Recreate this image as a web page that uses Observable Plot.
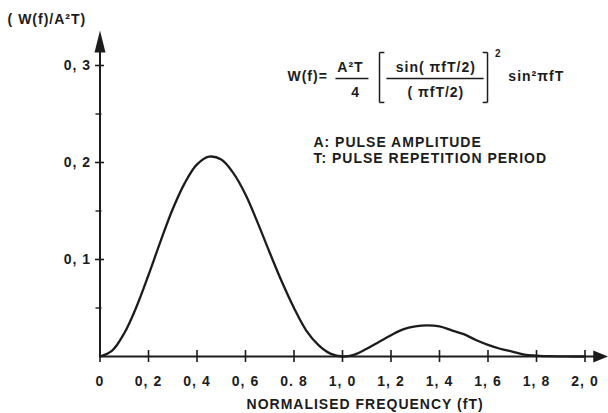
<!DOCTYPE html>
<html>
<head>
<meta charset="utf-8">
<script src="https://cdn.jsdelivr.net/npm/d3@7"></script>
<script src="https://cdn.jsdelivr.net/npm/@observablehq/plot@0.6"></script>
<style>
  html, body { margin: 0; padding: 0; background: #fff; }
</style>
</head>
<body>
<div id="chart"></div>
<script>
// ---- data ----
const freq = [0, 0.05, 0.1, 0.15, 0.2, 0.25, 0.3, 0.35, 0.4, 0.45, 0.5, 0.55, 0.6, 0.65, 0.7, 0.75, 0.8, 0.85, 0.9, 0.95,
              1.0, 1.05, 1.1, 1.15, 1.2, 1.25, 1.3, 1.35, 1.4, 1.45, 1.5, 1.55, 1.6, 1.65, 1.7, 1.75, 1.8, 1.85, 1.9, 1.95, 2.0];
const power = [0, 0.006, 0.024, 0.051, 0.084, 0.119, 0.152, 0.179, 0.198, 0.206, 0.203, 0.189, 0.167, 0.138, 0.107, 0.077, 0.050, 0.027, 0.012, 0.003,
               0, 0.002, 0.008, 0.015, 0.022, 0.028, 0.031, 0.032, 0.031, 0.027, 0.023, 0.017, 0.012, 0.008, 0.005, 0.002, 0.001, 0.0003, 0.0001, 0, 0];
const xTicks = [0, 0.2, 0.4, 0.6, 0.8, 1.0, 1.2, 1.4, 1.6, 1.8, 2.0];
const xTickLabels = ["0", "0, 2", "0, 4", "0, 6", "0. 8", "1, 0", "1, 2", "1, 4", "1, 6", "1, 8", "2, 0"];
const yTicks = [0.1, 0.2, 0.3];
const yTickLabels = ["0, 1", "0, 2", "0, 3"];
const yMinorTicks = [0.05, 0.15, 0.25];
const yTitle = "( W(f)/A²T)";
const xTitle = "NORMALISED FREQUENCY (fT)";
const formulaLHS = "W(f)=";
const formulaCoef = "A²T";
const formulaCoefDen = "4";
const formulaNum = "sin( πfT/2)";
const formulaDen = "( πfT/2)";
const formulaPow = "2";
const formulaTail = "sin²πfT";
const notes = ["A: PULSE AMPLITUDE", "T: PULSE REPETITION PERIOD"];

const data = freq.map((f, i) => ({f, w: power[i]}));
const xLabel = new Map(xTicks.map((t, i) => [t, xTickLabels[i]]));
const yLabel = new Map(yTicks.map((t, i) => [t, yTickLabels[i]]));

const ink = "#1c1c1c";
const font = "'Liberation Sans', Arial, sans-serif";

const arrowRight = {draw(ctx) { ctx.moveTo(0, 0); ctx.lineTo(-15, -6); ctx.lineTo(-15, 6); ctx.closePath(); }};
const arrowUp = {draw(ctx) { ctx.moveTo(0, 0); ctx.lineTo(-5.5, 22); ctx.lineTo(5.5, 22); ctx.closePath(); }};

const txt = (s, x, y, opts = {}) => Plot.text([s], {x: () => x, y: () => y, text: d => d, fill: ink, fontSize: 14, lineAnchor: "middle", ...opts});
const fml = {letterSpacing: "2px"};
const seg = (x1, x2, y1, y2) => Plot.link([0], {x1: () => x1, x2: () => x2, y1: () => y1, y2: () => y2, stroke: ink, strokeWidth: 1.5});

// bracket geometry (annotation only)
const bTop = 0.3134, bBot = 0.2619, lbX = 1.1526, rbX = 1.598, serif = 0.02;

const chart = Plot.plot({
  width: 608,
  height: 413,
  marginLeft: 99.5,
  marginRight: 23.5,
  marginTop: 65,
  marginBottom: 57,
  style: {background: "#fff", color: ink, fontFamily: font, fontWeight: "bold", letterSpacing: "1px"},
  x: {domain: [0, 2], label: null},
  y: {domain: [0, 0.3], label: null},
  marks: [
    // axis lines and arrows
    Plot.ruleY([0], {x1: 0, x2: 2.05, stroke: ink, strokeWidth: 2}),
    Plot.ruleX([0], {y1: 0, y2: 0.32, stroke: ink, strokeWidth: 2}),
    Plot.dot([0], {x: () => 2.096, y: () => 0, r: 3, symbol: arrowRight, fill: ink, stroke: null}),
    Plot.dot([0], {x: () => 0, y: () => 0.336, r: 3, symbol: arrowUp, fill: ink, stroke: null}),
    // ticks
    Plot.axisX({ticks: xTicks, tickFormat: d => xLabel.get(d), tickSize: 12, dy: -6, tickPadding: 14,
                fontSize: 14, stroke: ink, strokeWidth: 1.6, fill: ink}),
    Plot.axisY({ticks: yTicks, tickFormat: d => yLabel.get(d), tickSize: 9, dx: 4.5, tickPadding: 4.5,
                fontSize: 14, stroke: ink, strokeWidth: 1.6, fill: ink}),
    Plot.axisY({ticks: yMinorTicks, tickFormat: () => "", tickSize: 6, dx: 2, stroke: ink, strokeWidth: 1.4}),
    // curve
    Plot.line(data, {x: "f", y: "w", curve: "catmull-rom", stroke: ink, strokeWidth: 2.3}),
    // titles
    txt(yTitle, -0.381, 0.347, {textAnchor: "start"}),
    txt(xTitle, 1.093, -0.0495, {textAnchor: "middle"}),
    // formula
    txt(formulaLHS, 0.773, 0.2887, {textAnchor: "start", ...fml}),
    txt(formulaCoef, 1.033, 0.298, {textAnchor: "middle", ...fml}),
    seg(0.971, 1.107, 0.2866, 0.2866),
    txt(formulaCoefDen, 1.054, 0.272, {textAnchor: "middle", ...fml}),
    seg(lbX, lbX, bBot, bTop), seg(lbX, lbX + serif, bTop, bTop), seg(lbX, lbX + serif, bBot, bBot),
    txt(formulaNum, 1.385, 0.298, {textAnchor: "middle", ...fml}),
    seg(1.181, 1.582, 0.2866, 0.2866),
    txt(formulaDen, 1.385, 0.272, {textAnchor: "middle", ...fml}),
    seg(rbX, rbX, bBot, bTop), seg(rbX - serif, rbX, bTop, bTop), seg(rbX - serif, rbX, bBot, bBot),
    txt(formulaPow, 1.642, 0.3124, {textAnchor: "middle", fontSize: 10}),
    txt(formulaTail, 1.684, 0.2887, {textAnchor: "start", ...fml}),
    // notes
    txt(notes[0], 0.880, 0.2201, {textAnchor: "start"}),
    txt(notes[1], 0.880, 0.2046, {textAnchor: "start"})
  ]
});
document.getElementById("chart").appendChild(chart);
</script>
</body>
</html>
